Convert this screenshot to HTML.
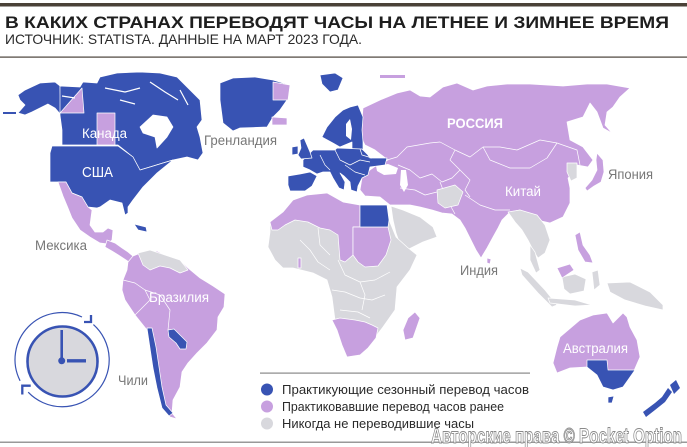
<!DOCTYPE html>
<html><head><meta charset="utf-8"><style>
html,body{margin:0;padding:0;background:#fff;}
svg{display:block;}
text{font-family:"Liberation Sans",sans-serif;}
</style></head><body>
<svg width="687" height="447" viewBox="0 0 687 447" xmlns="http://www.w3.org/2000/svg">
<rect width="687" height="447" fill="#fff"/>
<rect x="0" y="3" width="687" height="3.5" fill="#4a4238"/>
<text x="5" y="28" font-size="16.5" font-weight="bold" fill="#1e1e1e" textLength="664" lengthAdjust="spacingAndGlyphs">В КАКИХ СТРАНАХ ПЕРЕВОДЯТ ЧАСЫ НА ЛЕТНЕЕ И ЗИМНЕЕ ВРЕМЯ</text>
<text x="5" y="44" font-size="14" fill="#2a2a2a" textLength="357" lengthAdjust="spacingAndGlyphs">ИСТОЧНИК: STATISTA. ДАННЫЕ НА МАРТ 2023 ГОДА.</text>
<rect x="0" y="56.5" width="687" height="1.2" fill="#4a4238"/>

<g stroke="#fff" stroke-width="0.7" stroke-linejoin="round">
<!-- Alaska -->
<polygon fill="#3853b3" points="18,95 25,90 40,83 55,82 60,86 61,115 55,108 48,104 40,108 32,112 25,115 18,113 25,105 20,100"/>
<rect x="3" y="112" width="13" height="2" fill="#3853b3" stroke="none"/>
<!-- Canada -->
<polygon fill="#3853b3" points="60,86 80,87 83,82 97,83 100,77 117,73 140,72 160,73 177,77 187,87 200,100 202,120 197,127 200,137 203,153 198,160 187,157 173,160 163,163 150,167 140,170 133,157 118,145 62,145 62,130 60,115"/>
<polygon fill="#c7a0df" points="60,113 82,88 84,113"/>
<rect x="97" y="113" width="18" height="32" fill="#c7a0df"/>
<polygon fill="#fff" points="140,127 153,115 167,117 173,127 167,137 157,148 155,137 143,133"/>
<g fill="none" stroke="#fff" stroke-width="1.2">
<polyline points="105,88 125,92 140,88"/><polyline points="150,82 165,92 178,100"/><polyline points="120,100 135,104"/><polyline points="180,90 188,105"/><polyline points="62,96 75,98"/>
</g>
<!-- USA -->
<polygon fill="#3853b3" points="52,146 118,146 133,157 140,170 150,167 163,163 173,160 157,173 143,187 133,200 128,207 128,213 125,215 122,203 110,200 100,207 97,208 88,207 82,197 72,193 66,182 50,182 50,153"/>
<!-- Mexico & Central America -->
<polygon fill="#c7a0df" points="58,182 66,182 72,193 82,197 88,207 92,210 90,225 95,232 103,232 108,228 113,230 112,240 108,244 100,243 90,237 80,230 72,218 68,208 63,196"/>
<polygon fill="#c7a0df" points="107,240 115,243 122,248 128,252 134,257 129,262 120,256 112,251 105,247"/>
<polygon fill="#3853b3" points="134,224 146,227 147,232 138,230"/>
<!-- Greenland -->
<polygon fill="#3853b3" points="220,83 233,78 255,77 273,80 290,85 287,100 280,110 273,117 267,127 240,128 233,131 223,123 220,100"/>
<polygon fill="#c7a0df" points="273,82 290,85 288,100 273,100"/>
<polygon fill="#c7a0df" points="272,117 287,118 287,125 272,125"/>
<!-- South America -->
<polygon fill="#c7a0df" points="128,262 133,256 143,252 157,251 167,256 180,260 188,268 200,278 213,286 225,294 224,307 218,317 217,330 207,343 197,353 188,363 182,372 180,387 173,400 172,413 177,419 170,417 163,407 158,388 155,368 152,347 147,330 135,315 125,300 122,290 123,280 127,270"/>
<polygon fill="#d8d8dd" points="138,253 150,250 165,255 180,260 188,270 180,273 170,268 160,266 150,270 143,265"/>
<polyline fill="none" points="123,280 135,283 145,290 150,300 142,308 135,315"/>
<polyline fill="none" points="145,290 160,295 170,310 168,330"/>
<polygon fill="#3853b3" points="147,328 152,328 156,347 159,367 162,387 166,405 173,413 169,416 162,408 157,388 153,368 150,348"/>
<polygon fill="#3853b3" points="168,330 174,329 182,337 187,342 186,349 180,349 176,343 169,337"/>
<!-- Eurasia purple -->
<polygon fill="#c7a0df" points="363,108 380,100 397,93 410,90 420,96 430,97 443,87 457,83 473,90 487,86 507,84 530,84 563,86 587,84 607,84 630,88 620,97 613,107 607,112 605,125 612,133 603,128 597,112 590,103 583,117 567,122 570,140 583,147 593,160 588,167 577,165 575,172 568,178 570,188 570,203 563,217 550,223 537,220 528,215 520,210 510,212 502,220 498,228 493,237 487,248 481,258 476,250 470,238 465,228 460,220 452,214 442,213 432,210 420,207 410,205 400,205 390,205 380,197 365,196 360,190 362,178 370,170 380,163 388,160 375,150 365,145 360,135 362,120"/>
<g fill="none">
<polyline points="387,160 397,157 407,147 430,143 440,142 455,150 470,157 483,147 500,147 517,150 540,140 557,143 577,150 580,165"/>
<polyline points="483,147 490,160 510,168 530,168 547,158 557,143"/>
<polyline points="455,150 450,160 460,170 470,180 465,190 470,197"/>
<polyline points="398,165 410,170 420,178 432,174 442,182 452,178 460,170"/>
<polyline points="400,188 415,190 425,195 437,192"/>
<polyline points="465,195 480,205 495,210 510,210"/>
<polyline points="440,182 445,195 450,205 455,214"/>
</g>
<polygon fill="#fff" stroke="none" points="376,166 388,164 398,168 396,174 384,175 377,171"/>
<polygon fill="#fff" stroke="none" points="401,170 406,170 408,185 404,192 400,185"/>
<!-- Afghanistan, Korea, SE Asia -->
<polygon fill="#d8d8dd" points="437,190 455,185 463,192 458,205 445,208 438,203"/>
<polygon fill="#d8d8dd" points="567,163 577,163 577,178 571,181 567,172"/>
<polygon fill="#d8d8dd" points="508,212 520,210 537,215 545,225 550,240 545,253 538,258 533,250 528,240 522,230 515,222"/>
<polygon fill="#d8d8dd" points="530,245 535,252 540,270 536,273 530,260"/>
<polygon fill="#d8d8dd" points="520,268 528,272 545,290 557,305 552,307 538,293 522,275"/>
<polygon fill="#d8d8dd" points="548,298 575,300 592,305 575,306 550,303"/>
<polygon fill="#d8d8dd" points="562,277 575,274 586,279 584,291 570,294 564,289"/>
<polygon fill="#c7a0df" points="557,268 570,264 574,270 562,278"/>
<polygon fill="#d8d8dd" points="592,272 598,270 600,285 594,290"/>
<polygon fill="#d8d8dd" points="607,283 630,282 650,292 663,305 663,310 645,306 625,300 610,292"/>
<polygon fill="#c7a0df" points="575,235 580,232 583,245 590,255 593,263 585,262 578,250"/>
<polygon fill="#c7a0df" points="597,153 603,160 604,172 601,182 594,186 587,191 585,188 592,180 597,170 596,160"/>
<polygon fill="#c7a0df" points="487,258 491,259 490,264 487,263"/>
<!-- Arabia -->
<polygon fill="#d8d8dd" points="391,206 403,210 420,217 433,227 437,237 423,242 407,250 401,247 396,233 393,220"/>
<!-- Africa -->
<polygon fill="#d8d8dd" points="270,222 283,212 293,200 307,195 327,193 343,202 360,205 387,205 389,220 396,237 407,247 417,255 410,270 397,287 395,310 383,327 373,340 363,353 347,357 342,340 335,320 332,297 327,280 313,273 293,268 283,268 275,260 268,247 270,232"/>
<polygon fill="#c7a0df" points="270,222 283,212 293,200 307,195 327,193 343,202 360,205 360,227 353,227 353,255 345,262 340,260 338,235 330,230 320,228 308,222 295,220 285,225 278,230 272,230"/>
<polygon fill="#c7a0df" points="353,227 388,227 391,240 386,255 378,266 365,267 358,262 353,255"/>
<polygon fill="#3853b3" points="360,205 387,205 389,220 388,227 360,227"/>
<polygon fill="#c7a0df" points="332,320 340,318 355,320 365,322 372,325 378,328 376,338 368,348 360,355 347,357 342,345 337,330"/>
<polygon fill="#c7a0df" points="415,312 420,318 413,338 405,340 403,330 408,318"/>
<polygon fill="#c7a0df" points="298,258 301,258 301,268 298,268"/>
<g fill="none">
<polyline points="300,240 310,250 318,262 330,270"/><polyline points="338,260 345,275 360,282 375,280 390,272"/>
<polyline points="332,290 345,292 360,298 372,300 385,295"/><polyline points="340,310 358,312 370,318"/>
<polyline points="360,282 365,295 362,310"/><polyline points="318,228 320,245 330,255"/>
</g>
<!-- Europe blue -->
<polygon fill="#3853b3" points="322,137 327,127 335,117 343,110 350,107 358,105 363,117 362,130 363,142 363,150 352,150 352,142 340,147 333,143"/>
<polygon fill="#fff" stroke="none" points="346,124 350,119 352,129 351,140 346,136"/>
<polygon fill="#3853b3" points="303,160 313,150 335,150 337,148 362,149 368,155 370,158 387,158 385,165 370,167 368,175 362,178 358,186 357,192 351,190 350,182 344,176 340,173 345,182 344,190 339,188 333,178 330,172 323,172 317,174 310,170 303,167"/>
<polygon fill="#3853b3" points="288,176 300,174 310,172 317,176 312,186 305,191 290,191 288,185"/>
<polygon fill="#3853b3" points="300,140 304,138 307,145 310,152 312,158 301,159 298,155 301,148"/>
<polygon fill="#3853b3" points="292,147 298,146 298,154 292,155"/>
<polygon fill="#3853b3" points="320,75 335,73 343,78 338,90 330,92 322,84"/>
<g fill="none"><polyline points="320,155 325,165 330,170"/><polyline points="335,150 340,160 350,165 360,160 370,162"/><polyline points="345,165 355,172 365,175"/><polyline points="360,149 362,155 372,158"/></g>
<rect x="380" y="75" width="25" height="3" fill="#c7a0df" stroke="none"/>
<!-- Australia -->
<polygon fill="#c7a0df" points="557,347 560,337 580,320 593,315 607,313 613,323 623,313 627,317 630,327 637,340 640,357 633,373 623,387 613,390 603,387 597,375 587,367 570,368 557,373 553,363"/>
<polygon fill="#3853b3" points="587,360 607,360 608,370 635,370 623,387 613,390 603,387 597,375 587,367"/>
<polygon fill="#3853b3" points="608,397 614,396 612,403 608,403"/>
<polygon fill="#3853b3" points="643,412 655,403 662,397 668,388 672,392 665,402 655,410 646,417" stroke="none"/>
<polygon fill="#3853b3" points="670,385 676,380 680,388 674,394" stroke="none"/>
</g>

<!-- Labels -->
<g font-size="13.5" fill="#fff">
<text x="82" y="138" textLength="45" lengthAdjust="spacingAndGlyphs">Канада</text>
<text x="82" y="177" font-size="15" textLength="31" lengthAdjust="spacingAndGlyphs">США</text>
<text x="447" y="128" font-weight="bold" textLength="56" lengthAdjust="spacingAndGlyphs">РОССИЯ</text>
<text x="505" y="196" textLength="36" lengthAdjust="spacingAndGlyphs">Китай</text>
<text x="149" y="302" textLength="60" lengthAdjust="spacingAndGlyphs">Бразилия</text>
<text x="563" y="353" textLength="65" lengthAdjust="spacingAndGlyphs">Австралия</text>
</g>
<g font-size="13.5" fill="#777">
<text x="204" y="145" textLength="73" lengthAdjust="spacingAndGlyphs">Гренландия</text>
<text x="35" y="250" textLength="52" lengthAdjust="spacingAndGlyphs">Мексика</text>
<text x="608" y="179" textLength="45" lengthAdjust="spacingAndGlyphs">Япония</text>
<text x="460" y="275" textLength="38" lengthAdjust="spacingAndGlyphs">Индия</text>
<text x="118" y="385" textLength="30" lengthAdjust="spacingAndGlyphs">Чили</text>
</g>

<!-- Clock -->
<g fill="none" stroke="#3853b3">
<path d="M 82 317 A 47 47 0 0 0 20.1 380.8" stroke-width="1.2"/>
<path d="M 28.2 392.2 A 47 47 0 1 0 93.4 324.6" stroke-width="1.2"/>
<polyline points="91,315 91,322 84,322" stroke-width="2.3"/>
<polyline points="22.3,394.5 22.3,385.7 30.7,385.7" stroke-width="2.3"/>
<circle cx="62.5" cy="361.5" r="35" fill="#d8d8dd" stroke-width="2.6"/>
<line x1="61.7" y1="361" x2="61.7" y2="330" stroke-width="2.6"/>
<line x1="67" y1="360.8" x2="86" y2="360.8" stroke-width="3.4"/>
</g>
<circle cx="61.7" cy="360.8" r="3.5" fill="#3853b3"/>

<!-- Legend -->
<rect x="260" y="372.5" width="270" height="1.2" fill="#888"/>
<circle cx="267" cy="389.5" r="6" fill="#3853b3"/>
<circle cx="267" cy="406.5" r="6" fill="#c7a0df"/>
<circle cx="267" cy="423.5" r="6" fill="#d8d8dd"/>
<g font-size="12.5" fill="#2a2a2a">
<text x="282" y="394" textLength="247" lengthAdjust="spacingAndGlyphs">Практикующие сезонный перевод часов</text>
<text x="282" y="411" textLength="222" lengthAdjust="spacingAndGlyphs">Практиковавшие перевод часов ранее</text>
<text x="282" y="428" textLength="192" lengthAdjust="spacingAndGlyphs">Никогда не переводившие часы</text>
</g>
<rect x="0" y="441.5" width="687" height="1.5" fill="#999"/>
<text x="431" y="443" font-size="21" font-weight="bold" fill="#fff" stroke="#8a8a8a" stroke-width="0.9" textLength="251" lengthAdjust="spacingAndGlyphs">Авторские права © Pocket Option</text>
</svg>
</body></html>
